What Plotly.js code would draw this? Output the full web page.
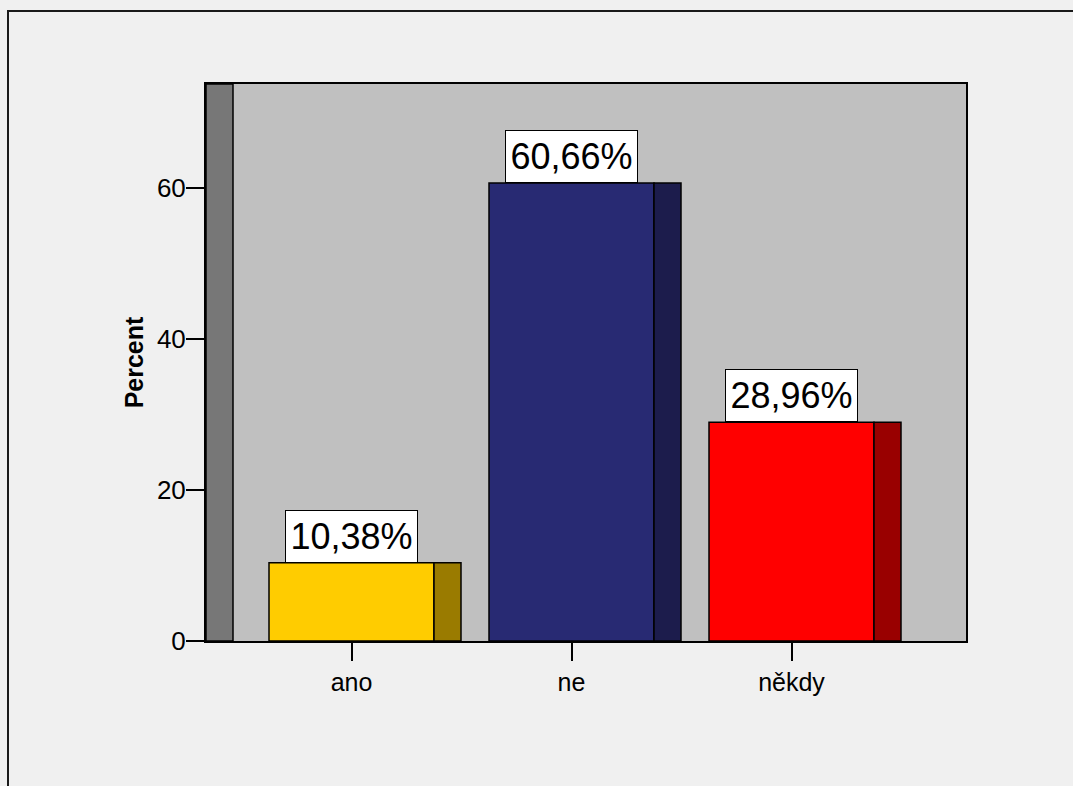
<!DOCTYPE html>
<html>
<head>
<meta charset="utf-8">
<script src="https://cdn.plot.ly/plotly-3.0.1.min.js"></script>
<style>
html,body{margin:0;padding:0;background:#f0f0f0;}
#chart{width:1073px;height:786px;}
</style>
</head>
<body>
<div id="chart"></div>
<script>
// Data
const categories = ["ano", "ne", "někdy"];
const percents = [10.38, 60.66, 28.96];
const labels = ["10,38%", "60,66%", "28,96%"];
const frontColors = ["#ffcc00", "#282a73", "#ff0000"];
const sideColors = ["#9a7b00", "#1c1c4c", "#990000"];
const yTicks = [0, 20, 40, 60];

// Layout constants (geometry, not data)
const W = 1073, H = 786;
const plotL = 206, plotR = 966, plotT = 84, plotB = 641;
const catSpacingPx = 220, firstCatPx = 351.5;
const frontWidth = 0.75;
const depth = 27 / catSpacingPx;
const xMin = (plotL - firstCatPx) / catSpacingPx;
const xMax = (plotR - firstCatPx) / catSpacingPx;
const yMax = (plotB - plotT) / ((plotB - 188) / 60);

const idx = categories.map((c, i) => i);
const font = "Arial, 'Liberation Sans', sans-serif";

const front = {
  type: "bar",
  x: idx,
  y: percents,
  width: idx.map(() => frontWidth),
  marker: {color: frontColors, line: {color: "#000", width: 1.5}},
  hoverinfo: "skip",
  showlegend: false
};
const side = {
  type: "bar",
  x: idx.map(i => i + frontWidth / 2 + depth / 2),
  y: percents,
  width: idx.map(() => depth),
  marker: {color: sideColors, line: {color: "#000", width: 1.5}},
  hoverinfo: "skip",
  showlegend: false
};

const annotations = idx.map(i => ({
  x: i, y: percents[i], xref: "x", yref: "y",
  text: labels[i], showarrow: false,
  xanchor: "center", yanchor: "bottom",
  font: {family: font, size: 36, color: "#000"},
  bgcolor: "#ffffff", bordercolor: "#000", borderwidth: 1, borderpad: 0,
  width: 131, height: 51
}));

const shapes = [
  // left wall
  {type: "rect", xref: "x", yref: "paper", x0: xMin, x1: xMin + depth, y0: 0, y1: 1,
   fillcolor: "#777777", line: {color: "#000", width: 1.5}, layer: "below"},
  // outer frame
  {type: "rect", xref: "paper", yref: "paper",
   x0: (8 - plotL) / (plotR - plotL), x1: (W + 20 - plotL) / (plotR - plotL),
   y0: (plotB - (H + 20)) / (plotB - plotT), y1: (plotB - 11) / (plotB - plotT),
   fillcolor: "rgba(0,0,0,0)", line: {color: "#1a1a1a", width: 2}, layer: "below"}
];

const layout = {
  width: W, height: H,
  margin: {l: plotL, r: W - plotR, t: plotT, b: H - plotB, pad: 0},
  paper_bgcolor: "#f0f0f0",
  plot_bgcolor: "#c0c0c0",
  barmode: "overlay",
  font: {family: font, size: 25, color: "#000"},
  xaxis: {
    range: [xMin, xMax], tickmode: "array", tickvals: idx, ticktext: categories,
    ticks: "outside", ticklen: 18, tickwidth: 2, tickcolor: "#000",
    showline: true, linecolor: "#000", linewidth: 2, mirror: true,
    showgrid: false, zeroline: false, fixedrange: true,
    tickfont: {family: font, size: 25, color: "#000"}
  },
  yaxis: {
    range: [0, yMax], tickmode: "array", tickvals: yTicks, ticktext: yTicks.map(String),
    ticks: "outside", ticklen: 18, tickwidth: 2, tickcolor: "#000",
    showline: true, linecolor: "#000", linewidth: 2, mirror: true,
    showgrid: false, zeroline: false, fixedrange: true,
    ticklabelstandoff: -5,
    tickfont: {family: font, size: 26, color: "#000"},
    title: {text: "Percent", font: {family: font, size: 25, color: "#000", weight: "bold"}, standoff: 6}
  },
  annotations: annotations,
  shapes: shapes
};

Plotly.newPlot("chart", [front, side], layout, {displayModeBar: false, staticPlot: true});
</script>
</body>
</html>
